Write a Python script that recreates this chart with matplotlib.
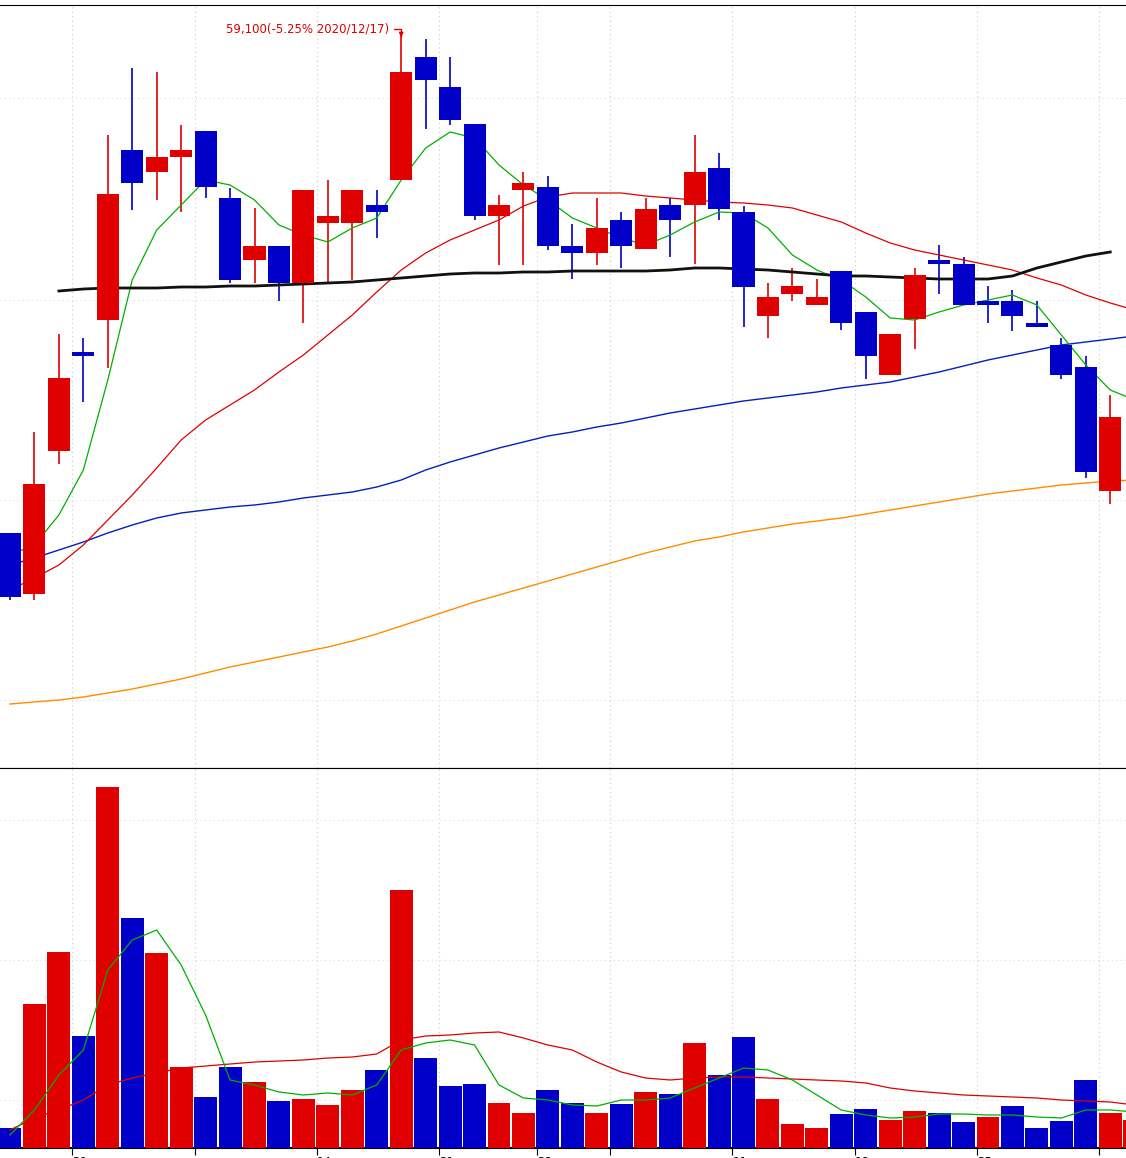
import matplotlib
matplotlib.use("Agg")
import matplotlib.pyplot as plt
import numpy as np

# candle readings (chart units: price = 59590 - 14*px reading)
colors = list("brrbrbrrbbbrbrrrbrbbbrrbbrbrbrbbrrrbbrrbbbbbbrr")[:47]
color_flag = ['b','r','r','b','r','b','r','r','b','b','r','b','r','r','r','b','r','b','b','b','r','r','b','b','r','b','r','b','r','b','b','r','r','r','b','b','r','r','b','b','b','b','b','b','b','r']
body_top = [533,484,378,352,194,150,157,150,131,198,246,246,190,216,190,205,72,57,87,124,205,183,187,246,228,220,209,205,172,168,212,297,286,297,271,312,334,275,260,264,301,301,323,345,367,417]
body_bot = [597,594,451,356,320,183,172,157,187,280,260,283,283,223,223,212,180,80,120,216,216,190,246,253,253,246,249,220,205,209,287,316,294,305,323,356,375,319,264,305,305,316,327,375,472,491]
high_px  = [533,432,334,338,135,68,72,125,131,188,208,246,190,180,190,190,35,39,57,124,195,172,176,224,198,212,198,198,135,153,206,283,268,279,271,312,334,268,245,257,286,290,301,338,356,395]
low_px   = [600,600,464,402,368,210,200,212,198,283,283,301,323,283,280,238,180,129,125,220,265,265,250,279,265,268,249,257,264,220,327,338,301,305,330,379,375,349,294,305,323,331,327,379,478,504]

ma5_px  = [555,545,515,470,380,280,230,205,180,185,200,225,235,242,228,218,180,148,132,138,165,185,200,218,228,238,245,235,222,212,213,228,255,270,280,297,318,320,312,305,300,295,305,335,365,390,400]
ma20_px = [590,578,565,545,520,495,468,440,420,405,390,372,355,335,315,292,270,253,240,230,220,206,197,193,193,193,196,198,200,202,203,205,208,215,222,233,243,250,255,260,265,270,278,285,295,303,310]
ma60_px = [565,558,550,542,533,525,518,513,510,507,505,502,498,495,492,487,480,470,462,455,448,442,436,432,427,423,418,413,409,405,401,398,395,392,388,385,382,377,372,366,360,355,350,345,342,339,336]
ma120_px= [704,702,700,697,693,689,684,679,673,667,662,657,652,647,641,634,626,618,610,602,595,588,581,574,567,560,553,547,541,537,532,528,524,521,518,514,510,506,502,498,494,491,488,485,483,481,480]
ma240_px= [np.nan,np.nan,291,289,288,288,288,287,287,286,286,285,284,283,282,280,278,276,274,273,273,272,272,271,271,271,271,270,268,268,269,270,272,274,276,276,277,278,279,279,279,276,268,262,256,252,np.nan]

vol_px  = [1128,1004,952,1036,787,918,953,1067,1097,1067,1082,1101,1099,1105,1090,1070,890,1058,1086,1084,1103,1113,1090,1103,1113,1104,1092,1094,1043,1075,1037,1099,1124,1128,1114,1109,1120,1111,1113,1122,1117,1106,1128,1121,1080,1113,1120]
vol_col = ['b','r','r','b','r','b','r','r','b','b','r','b','r','r','r','b','r','b','b','b','r','r','b','b','r','b','r','b','r','b','b','r','r','r','b','b','r','r','b','b','r','b','b','b','b','r','r']
vma5_px = [1135,1110,1075,1050,970,940,930,965,1015,1080,1085,1092,1095,1093,1095,1085,1050,1043,1040,1045,1085,1098,1100,1105,1106,1100,1100,1098,1088,1078,1068,1070,1080,1095,1110,1115,1118,1117,1114,1114,1115,1115,1117,1118,1110,1110,1112]
vma20_px= [1130,1118,1110,1100,1085,1078,1073,1068,1066,1064,1062,1061,1060,1058,1057,1054,1040,1036,1035,1033,1032,1038,1045,1050,1062,1072,1078,1080,1078,1077,1077,1078,1079,1080,1081,1083,1088,1091,1093,1095,1096,1097,1098,1100,1101,1102,1105]

tick_idx = [3,8,13,18,22,25,30,35,40,45]
tick_lab = ["30","12/07","14","21","28","2021/01/04","11","18","25","02/01"]

def P(a): return 59590 - 14*np.array(a, dtype=float)
def V(a): return (1148 - np.array(a, dtype=float)) * 50000

RED, BLUE = "#e00000", "#0000c8"
cmap = {'r': RED, 'b': BLUE}

fig = plt.figure(figsize=(11.26, 11.58), dpi=100)
ax = fig.add_axes([0, 1-768/1158, 1, 763/1158])
axv = fig.add_axes([0, 10/1158, 1, 380/1158])
xl = (-10/24.45, (1126-10)/24.45)
for a in (ax, axv):
    a.set_xlim(*xl)
    for s in ("left", "right"):
        a.spines[s].set_visible(False)
    a.set_yticks([])
    for t in tick_idx:
        a.axvline(t-0.45, color="#cccccc", ls=(0,(1,3)), lw=0.8, zorder=0)

ax.set_ylim(P(768), P(5))
for yy in [98, 300, 500, 700]:
    ax.axhline(P(yy), color="#dddddd", ls=(0,(1,3)), lw=0.8, zorder=0)
x = np.arange(len(body_top))
bt, bb, hi, lo = P(body_top), P(body_bot), P(high_px), P(low_px)
for i in x:
    c = cmap[color_flag[i]]
    ax.vlines(i, lo[i], hi[i], color=c, lw=1.2, zorder=2)
    ax.bar(i, bt[i]-bb[i], bottom=bb[i], width=0.9, color=c, zorder=3)
xm = np.arange(len(ma5_px))
ax.plot(xm, P(ma120_px), color="#ff8c00", lw=1)
ax.plot(xm, P(ma60_px), color="#0020c0", lw=1)
ax.plot(xm, P(ma20_px), color="#e00000", lw=0.9)
ax.plot(xm, P(ma5_px), color="#00b000", lw=0.9)
ax.plot(xm, P(ma240_px), color="#111111", lw=2)
ax.set_xticks([])
ax.annotate("", xy=(16, P(40)), xytext=(15.6, P(29)),
            arrowprops=dict(arrowstyle="-|>", color=RED, lw=1, mutation_scale=6,
                            connectionstyle="angle,angleA=0,angleB=90"))
ax.text(15.5, P(29), "59,100(-5.25% 2020/12/17)", color=RED, fontsize=8.5,
        ha="right", va="center", family="DejaVu Sans")

axv.set_ylim(0, V(768))
for yy in [820, 960, 1100]:
    axv.axhline(V(yy), color="#dddddd", ls=(0,(1,3)), lw=0.8, zorder=0)
vv = V(vol_px)
axv.bar(np.arange(len(vv)), vv, width=0.94, color=[cmap[c] for c in vol_col], zorder=3)
axv.plot(xm, V(vma20_px), color="#e00000", lw=0.9, zorder=4)
axv.plot(xm, V(vma5_px), color="#00b000", lw=0.9, zorder=4)
axv.set_xticks([t-0.45 for t in tick_idx])
axv.set_xticklabels(tick_lab, fontsize=8.5, ha="left")
axv.tick_params(axis="x", length=5, pad=1, direction="out")
axv.spines["bottom"].set_linewidth(1.5)
fig.savefig("out.png", dpi=100)
